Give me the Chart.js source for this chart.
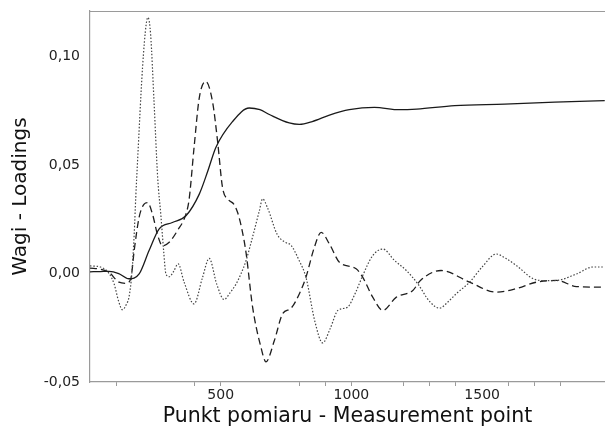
<!DOCTYPE html>
<html>
<head>
<meta charset="utf-8">
<script src="https://cdn.jsdelivr.net/npm/chart.js@4/dist/chart.umd.min.js"></script>
<style>
  html, body { margin: 0; padding: 0; background: #fff; }
  #wrap { width: 605px; height: 430px; }
</style>
</head>
<body>
<div id="wrap"><canvas id="c" width="605" height="430"></canvas></div>
<script>
// ---- data ----
const solidX  = [0, 40, 73, 110, 149, 188, 226, 264, 315, 367, 418, 450, 481, 545, 609, 650, 686, 762, 801, 850, 916, 992, 1088, 1184, 1250, 1395, 1586, 1778, 1969];
const solidY  = [0.0008, 0.0009, 0.001, 0.0, -0.0024, -0.0002, 0.0106, 0.0205, 0.0235, 0.0266, 0.0366, 0.047, 0.058, 0.070, 0.0763, 0.0755, 0.0733, 0.0694, 0.0687, 0.0700, 0.0730, 0.0755, 0.0766, 0.0755, 0.0758, 0.0774, 0.0781, 0.0790, 0.0797];

const dashedX = [0, 40, 73, 111, 137, 156, 169, 188, 207, 220, 239, 258, 277, 303, 334, 367, 379, 398, 418, 443, 469, 488, 507, 530, 550, 565, 580, 597, 622, 654, 673, 705, 737, 769, 801, 826, 858, 884, 916, 954, 1018, 1043, 1082, 1120, 1171, 1235, 1264, 1343, 1452, 1554, 1630, 1707, 1784, 1861, 1963];
const dashedY = [0.0025, 0.002, 0.0005, -0.004, -0.0045, -0.0024, 0.0106, 0.026, 0.032, 0.0327, 0.0274, 0.018, 0.0128, 0.0144, 0.0197, 0.0274, 0.034, 0.058, 0.081, 0.0885, 0.079, 0.061, 0.0396, 0.034, 0.032, 0.028, 0.021, 0.0095, -0.0155, -0.034, -0.0407, -0.031, -0.0185, -0.016, -0.0093, -0.0017, 0.012, 0.019, 0.0136, 0.0052, 0.0022, -0.0017, -0.011, -0.017, -0.011, -0.0078, -0.0032, 0.0014, -0.004, -0.0086, -0.007, -0.004, -0.0032, -0.006, -0.0063];

const dottedX = [0, 40, 73, 92, 110, 124, 140, 149, 160, 169, 175, 182, 201, 215, 222, 232, 245, 259, 271, 282, 290, 303, 320, 337, 360, 398, 430, 456, 485, 513, 535, 558, 578, 597, 620, 648, 660, 680, 716, 745, 769, 800, 826, 860, 890, 920, 948, 985, 1015, 1043, 1080, 1120, 1165, 1210, 1253, 1300, 1337, 1370, 1401, 1452, 1500, 1554, 1590, 1631, 1695, 1740, 1784, 1861, 1924, 1963];
const dottedY = [0.0035, 0.003, 0.0, -0.0047, -0.013, -0.0167, -0.014, -0.011, 0.0, 0.018, 0.035, 0.052, 0.095, 0.115, 0.118, 0.110, 0.079, 0.044, 0.027, 0.01, 0.0, -0.0015, 0.001, 0.0045, -0.004, -0.014, -0.002, 0.007, -0.005, -0.012, -0.009, -0.005, 0.0, 0.006, 0.016, 0.029, 0.0344, 0.030, 0.018, 0.0145, 0.013, 0.006, -0.0017, -0.022, -0.032, -0.025, -0.017, -0.0155, -0.009, -0.001, 0.008, 0.0113, 0.006, 0.0014, -0.0046, -0.013, -0.016, -0.013, -0.0093, -0.004, 0.003, 0.009, 0.007, 0.0037, -0.0024, -0.0033, -0.0032, -0.0002, 0.003, 0.003];

const xLabelValues = [500, 1000, 1500];
const xVisibleTicks = [100, 400, 500, 800, 900, 1000, 1200, 1300, 1400, 1600, 1700, 1800];
const yLabelValues = [-0.05, 0.0, 0.05, 0.10];

const xTitle = 'Punkt pomiaru - Measurement point';
const yTitle = 'Wagi - Loadings';

function pts(xs, ys) { return xs.map((x, i) => ({ x: x, y: ys[i] })); }

const AXIS = '#9a9a9a';
const TXT = '#222';
const FONT = 'DejaVu Sans';

const topBorder = {
  id: 'topBorder',
  afterDraw(chart) {
    const a = chart.chartArea, ctx = chart.ctx;
    ctx.save();
    ctx.strokeStyle = AXIS;
    ctx.lineWidth = 1.2;
    ctx.beginPath();
    ctx.moveTo(a.left, a.top + 0.5);
    ctx.lineTo(a.right, a.top + 0.5);
    ctx.stroke();
    ctx.restore();
  }
};

new Chart(document.getElementById('c'), {
  type: 'line',
  data: {
    datasets: [
      { label: 'dotted', data: pts(dottedX, dottedY), borderColor: '#444', borderWidth: 1.2, borderDash: [1.5, 1.8], pointRadius: 0, cubicInterpolationMode: 'monotone', fill: false },
      { label: 'dashed', data: pts(dashedX, dashedY), borderColor: '#1e1e1e', borderWidth: 1.3, borderDash: [7, 4], pointRadius: 0, cubicInterpolationMode: 'monotone', fill: false },
      { label: 'solid',  data: pts(solidX, solidY),  borderColor: '#1a1a1a', borderWidth: 1.3, pointRadius: 0, cubicInterpolationMode: 'monotone', fill: false }
    ]
  },
  options: {
    responsive: false,
    animation: false,
    devicePixelRatio: 1,
    layout: { padding: { top: 11, right: 0, bottom: 0, left: 0 } },
    plugins: { legend: { display: false }, tooltip: { enabled: false } },
    scales: {
      x: {
        type: 'linear',
        min: 0,
        max: 1970,
        afterFit(s) { s.height = 48; s.paddingLeft = 0; s.paddingRight = 0; },
        border: { display: true, color: AXIS, width: 1.2 },
        grid: {
          drawOnChartArea: false,
          drawTicks: true,
          tickLength: 4,
          color: AXIS,
          tickColor: (ctx) => (ctx.tick && xVisibleTicks.includes(ctx.tick.value)) ? AXIS : 'rgba(0,0,0,0)'
        },
        ticks: {
          stepSize: 100,
          autoSkip: false,
          maxRotation: 0,
          padding: 1,
          color: TXT,
          font: { family: FONT, size: 14 },
          callback: (v) => xLabelValues.includes(v) ? String(v) : ''
        },
        title: {
          display: true,
          text: xTitle,
          color: '#111',
          font: { family: FONT, size: 20.5 },
          padding: { top: 0, bottom: 1 }
        }
      },
      y: {
        type: 'linear',
        min: -0.05,
        max: 0.121,
        afterFit(s) { s.width = 90; s.paddingTop = 0; s.paddingBottom = 0; },
        border: { display: true, color: AXIS, width: 1.2 },
        grid: { display: false, drawTicks: false },
        ticks: {
          stepSize: 0.05,
          padding: 10,
          color: TXT,
          font: { family: FONT, size: 14 },
          callback: (v) => {
            const hit = yLabelValues.find(t => Math.abs(t - v) < 1e-6);
            return hit === undefined ? '' : hit.toFixed(2).replace('.', ',');
          }
        },
        title: {
          display: true,
          text: yTitle,
          color: '#111',
          font: { family: FONT, size: 20 },
          padding: { top: 9, bottom: 0 }
        }
      }
    }
  },
  plugins: [topBorder]
});
</script>
</body>
</html>
